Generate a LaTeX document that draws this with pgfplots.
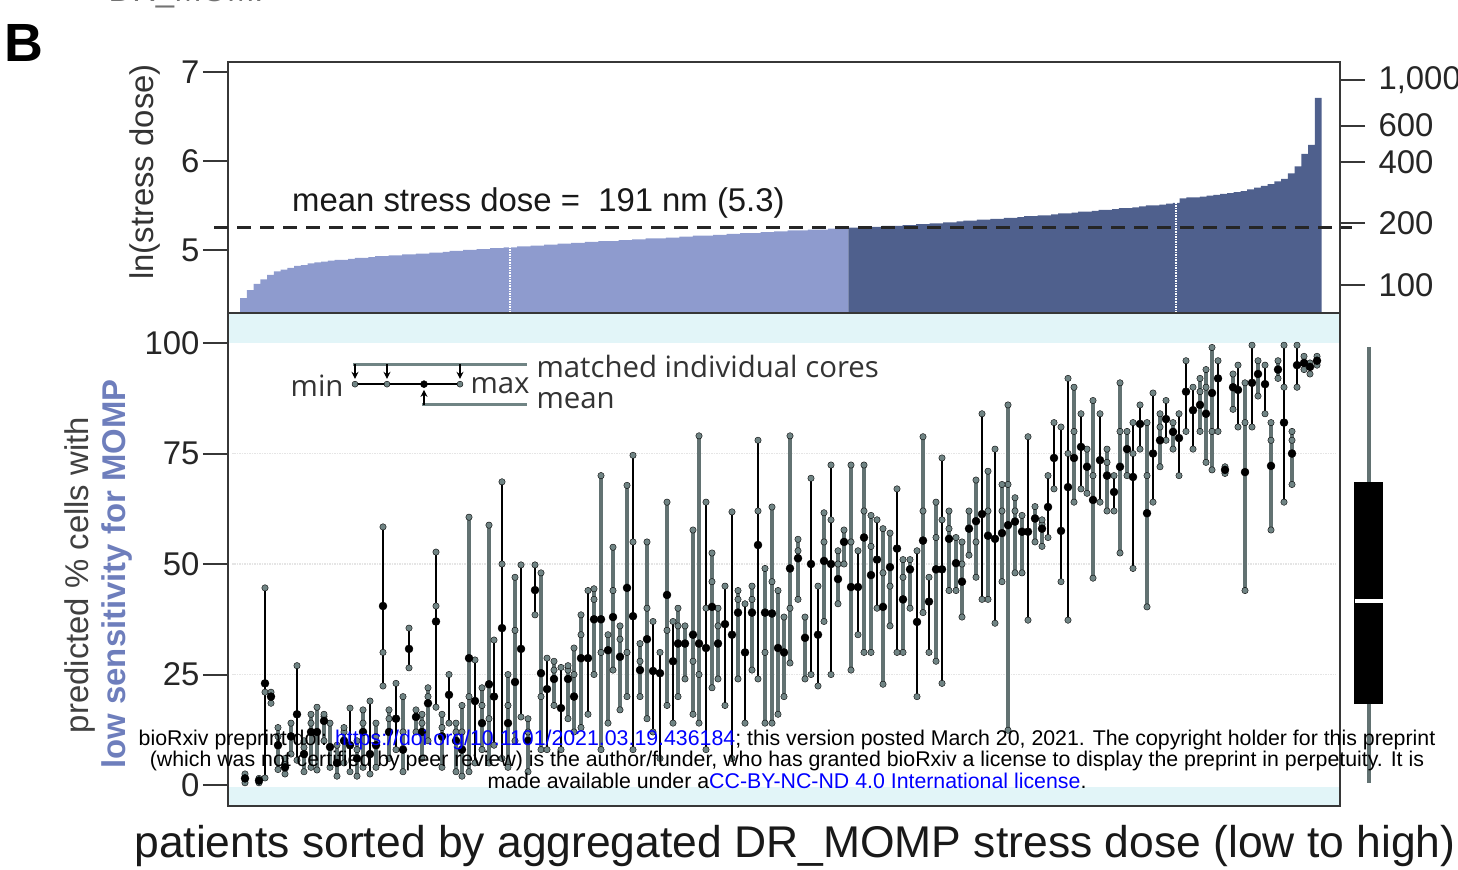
\documentclass[border=0pt]{standalone}
\usepackage{pgfplots}
\pgfplotsset{compat=1.18}
\usepackage{pgfplotstable}
\usepgfplotslibrary{statistics}
\usetikzlibrary{arrows.meta}
\usepackage{fontspec}
\setmainfont{Liberation Sans}
\newfontfamily\legfont{Open Sans}
\definecolor{lightbar}{RGB}{142,155,206}
\definecolor{darkbar}{RGB}{79,96,141}
\definecolor{cyanbg}{RGB}{226,245,248}
\definecolor{coregrey}{RGB}{112,132,132}
\definecolor{linegrey}{RGB}{98,114,114}
\definecolor{labblue}{RGB}{110,126,188}
\definecolor{axgrey}{RGB}{55,55,55}

\pgfplotstableread{
x y
240.0 4.292
240.0 4.46
246.8 4.55
253.5 4.62
260.3 4.67
267.0 4.72
273.8 4.76
280.6 4.78
287.3 4.80
294.1 4.82
300.8 4.83
307.6 4.85
314.4 4.86
321.1 4.87
327.9 4.88
334.6 4.89
341.4 4.89
348.2 4.90
354.9 4.91
361.7 4.91
368.4 4.92
375.2 4.93
382.0 4.93
388.7 4.94
395.5 4.94
402.2 4.95
409.0 4.95
415.8 4.96
422.5 4.96
429.3 4.97
436.0 4.97
442.8 4.98
449.6 4.99
456.3 4.99
463.1 5.00
469.8 5.00
476.6 5.01
483.4 5.01
490.1 5.02
496.9 5.02
503.6 5.03
510.4 5.03
517.2 5.04
523.9 5.04
530.7 5.05
537.4 5.05
544.2 5.06
551.0 5.06
557.7 5.07
564.5 5.07
571.2 5.08
578.0 5.08
584.8 5.09
591.5 5.09
598.3 5.10
605.0 5.10
611.8 5.10
618.6 5.11
625.3 5.11
632.1 5.12
638.8 5.12
645.6 5.13
652.4 5.13
659.1 5.13
665.9 5.14
672.6 5.14
679.4 5.15
686.2 5.15
692.9 5.16
699.7 5.16
706.4 5.16
713.2 5.17
720.0 5.17
726.7 5.18
733.5 5.18
740.2 5.19
747.0 5.19
753.8 5.19
760.5 5.20
767.3 5.20
774.0 5.21
780.8 5.21
787.6 5.22
794.3 5.22
801.1 5.22
807.8 5.23
814.6 5.23
821.4 5.23
828.1 5.24
834.9 5.24
841.6 5.245
848.4 5.245
848.4 4.292
}\lightbars

\pgfplotstableread{
x y
848.4 4.292
848.4 5.25
855.2 5.25
861.9 5.26
868.7 5.26
875.4 5.26
882.2 5.27
889.0 5.27
895.7 5.27
902.5 5.28
909.2 5.28
916.0 5.29
922.8 5.29
929.5 5.30
936.3 5.30
943.0 5.31
949.8 5.31
956.6 5.32
963.3 5.33
970.1 5.33
976.8 5.34
983.6 5.34
990.4 5.35
997.1 5.35
1003.9 5.36
1010.6 5.36
1017.4 5.37
1024.2 5.38
1030.9 5.38
1037.7 5.39
1044.4 5.39
1051.2 5.40
1058.0 5.41
1064.7 5.41
1071.5 5.42
1078.2 5.43
1085.0 5.43
1091.8 5.44
1098.5 5.45
1105.3 5.45
1112.0 5.46
1118.8 5.47
1125.6 5.47
1132.3 5.48
1139.1 5.49
1145.8 5.50
1152.6 5.50
1159.4 5.51
1166.1 5.52
1172.9 5.53
1179.6 5.58
1186.4 5.59
1193.2 5.59
1199.9 5.60
1206.7 5.61
1213.4 5.62
1220.2 5.63
1227.0 5.64
1233.7 5.65
1240.5 5.66
1247.2 5.68
1254.0 5.70
1260.8 5.72
1267.5 5.74
1274.3 5.77
1281.0 5.80
1287.8 5.86
1294.6 5.94
1301.3 6.08
1308.1 6.18
1314.8 6.71
1321.6 6.71
1321.6 4.292
}\darkbars

\pgfplotstableread{
x m lo hi
245 1.5 0.5 2.5
259 1.0 0.5 1.5
271 20 18.5 21
278 9 3.5 13
285 4 2.5 6
291 11 7 14
304 7 3 10
311 12 4 16
317 12 3.4 17.6
324 14.5 10 16
330 8.6 4 14
337 5 2 9
344 10 5 13
357 6 2 10
363 12 4 17
376 9 4 14
389 12 6 17
403 8 3 20
416 15.4 12 17
422 12 6 16
428 18.5 10 22
442 11 4 16
456 10 3 14
462 8 2 18
469 28.7 3 60.6
482 14 8 22
489 22.8 5 58.8
508 14 4 25
515 23.3 10 47
528 10 3 15
541 25.3 8 48
554 24 18 28
568 24 15 27
574 20 12 31
581 28.7 13 38.5
594 37.5 25 44.4
601 37.5 8 70
608 30.5 14 34
613 38 26 53.8
620 29 17 36
627 44.6 20 67.8
640 26 20 32
647 33 15 55
667 43 18 64
678 32 20 40
685 32 24 36
693 34 16 57.7
699 32 14 79
712 40.3 22 52.5
718 32 24 40
738 39 24 44
752 39 26 45
765 39 14 49
772 38.8 14 62.9
778 31 16 44
784 30 20 38
790 49 27.6 79
798 51.3 42 55.6
805 33.3 24 38
824 50.7 37 61.6
838 46.6 41 53
844 55 50 57.7
851 44.8 26 72.4
864 56 30 72.4
871 47.5 30 61
883 40.3 22.8 58
890 49.3 36 57
903 42 30 51
910 48.8 40 51
923 55.3 39 78.8
936 48.8 28 64
949 55.7 44 62
956 50.2 44 56
962 46 38 55
969 58 52 62
976 59.7 47 69
988 56.4 42 71
1002 57 46 68
1008 58.8 12.4 86
1015 59.6 48 65
1022 57.3 48 61
1035 60.3 55 63
1042 58 54 60
1074 74 64 90
1087 72 66 76
1093 64.5 46.8 87
1107 70 62 76
1120 72 52.5 91
1127 76 70 80
1147 61.5 40.3 82
1160 78 72 84
1173 79.9 76 82
1200 86 80 92
1206 84 73 94
1212 88.7 71.3 99
1225 71.3 70.5 72
1233 90 85 93
1245 70.8 44 91
1258 93 88 96
1271 72.2 57.7 82
1278 94 92 96
1292 75 68 80
1304 95.5 94 97
1317 96 95 97
}\greydata

\pgfplotstableread{
x m lo hi
265 23 1.6 44.6
297 16 5.6 27
350 9 3 17.4
370 7 2.5 19
383 40.5 22.4 58.4
396 15 8 23
409 30.8 26.5 35.5
436 37 17.6 52.7
449 20.4 14 25
475 19 5 28.3
494 20 9 32.8
502 35.5 6 68.6
521 30.8 15.4 49.8
535 44.1 38.5 49.8
547 21.7 8 28.7
561 17.4 8 26.6
588 28.7 16 44
633 38.2 8 74.6
653 25.8 12 37
660 25.3 6 30
673 28 14 37
706 31 8 64
725 36.4 18 45
732 34 6 61.8
745 30 14 41
758 54.3 24 78
811 50 25 69.4
818 34 22.4 45
831 50 25 72.4
858 44.8 34 53
877 51 40 60
897 53.5 30 67
917 36.9 20 53
929 41.5 30 47
942 48.8 23 74
982 61.3 42 84
995 55.7 36.6 76
1028 57.3 37.3 78.8
1048 62.9 56 70
1054 74 67 82
1061 57.5 46 81
1068 67.4 37.3 92
1081 76.5 67 84
1100 73.5 64 84
1114 66.3 62 70
1133 69.7 49 82
1140 81.7 76 86
1153 75 64 88.7
1166 82.8 78 87
1179 78.5 70 84
1186 89 80 96
1193 84.8 76 90
1218 92 80 96
1238 89.4 81 95
1252 91 81 99.5
1265 90.7 84 95
1284 82 64 99.5
1297 95 90 99.5
1310 94.6 93 95.5
}\blackdata

\pgfplotstableread{
x y
265 21
278 11
285 5
304 8.5
311 14
324 15.5
344 12
357 8
363 14
376 11
383 30
389 15
403 12
422 14
428 20
436 40.5
442 13
456 12
462 12
469 20
482 18
489 15
502 50
508 18
515 35
528 12
541 20
554 26
568 26
574 25
581 34
594 42
601 30
613 44
620 33
627 30
633 55
640 28
647 40
667 35
678 36
693 28
699 25
706 40
712 46
718 36
738 42
752 42
758 62
765 30
772 46
790 40
798 53
824 55
831 60
838 50
851 55
864 62
871 54
883 48
890 45
903 47
923 62
936 56
942 60
949 58
962 50
976 55
988 62
1002 62
1008 68
1015 62
1042 59
1068 75
1074 80
1093 70
1107 73
1120 80
1133 75
1147 70
1160 81
1200 89
1206 90
1212 80
1245 82
1271 78
1284 90
1292 78
}\midcores

\begin{document}
\begin{tikzpicture}
\useasboundingbox (0bp,0bp) rectangle (1458bp,870bp);

% ---------------- top panel ----------------
\begin{axis}[
  at={(228bp,557bp)}, anchor=south west, scale only axis,
  width=1112bp, height=251bp,
  xmin=228, xmax=1340, ymin=4.292, ymax=7.112,
  clip=false,
  axis line style={line width=2bp, axgrey},
  xtick=\empty, ytick={5,6,7}, ytick pos=left,
  tick align=outside, major tick length=25bp,
  tick style={line width=2bp, axgrey},
  yticklabel style={font=\fontsize{33}{33}\selectfont, text=black!85},
  /pgf/number format/assume math mode=true,
]
\addplot[const plot, fill=lightbar, draw=none] table[x=x,y=y] {\lightbars};
\addplot[const plot, fill=darkbar, draw=none] table[x=x,y=y] {\darkbars};
\draw[white, densely dotted, line width=1.6bp] (axis cs:510,4.292) -- (axis cs:510,5.03);
\draw[white, densely dotted, line width=1.6bp] (axis cs:1176,4.292) -- (axis cs:1176,5.55);
\draw[black!85, line width=2.4bp, dash pattern=on 14bp off 9bp] (axis cs:214,5.253) -- (axis cs:1352,5.253);
\end{axis}

% right axis (nm)
\begin{axis}[
  at={(228bp,557bp)}, anchor=south west, scale only axis,
  width=1112bp, height=251bp,
  xmin=228, xmax=1340, ymin=4.292, ymax=7.112,
  axis x line=none, axis y line*=right,
  axis line style={line width=2bp, axgrey},
  ytick={4.605,5.298,5.991,6.397,6.908},
  yticklabels={100,200,400,600,{1,000}},
  tick align=outside, major tick length=25bp,
  tick style={line width=2bp, axgrey},
  yticklabel style={font=\fontsize{33}{33}\selectfont, text=black!85, xshift=10bp},
]
\addplot[draw=none] coordinates {(300,5)};
\end{axis}

% ---------------- bottom panel ----------------
\begin{axis}[
  at={(228bp,64bp)}, anchor=south west, scale only axis,
  width=1112bp, height=493bp,
  xmin=228, xmax=1340, ymin=-4.75, ymax=106.8,
  clip=false,
  axis background/.style={fill=cyanbg},
  axis line style={line width=2bp, axgrey},
  xtick=\empty, ytick={0,25,50,75,100}, ytick pos=left,
  tick align=outside, major tick length=25bp,
  tick style={line width=2bp, axgrey},
  yticklabel style={font=\fontsize{33}{33}\selectfont, text=black!85},
  /pgf/number format/assume math mode=true,
]
\fill[white] (axis cs:229,-0.5) rectangle (axis cs:1339,100);
\draw[black!10, densely dotted, line width=1.5bp] (axis cs:232,25) -- (axis cs:1336,25);
\draw[black!10, densely dotted, line width=1.5bp] (axis cs:232,50) -- (axis cs:1336,50);
\draw[black!10, densely dotted, line width=1.5bp] (axis cs:232,75) -- (axis cs:1336,75);
% legend inset
\draw[coregrey, line width=3bp] (axis cs:353,95.2) -- (axis cs:527,95.2);
\draw[black, line width=1.5bp, -{Stealth[length=7bp,width=7bp]}] (axis cs:355,95.2) -- (axis cs:355,91.9);
\draw[black, line width=1.5bp, -{Stealth[length=7bp,width=7bp]}] (axis cs:387,95.2) -- (axis cs:387,91.9);
\draw[black, line width=1.5bp, -{Stealth[length=7bp,width=7bp]}] (axis cs:460,95.2) -- (axis cs:460,91.9);
\draw[coregrey, line width=3bp] (axis cs:422,86.0) -- (axis cs:527,86.0);
\draw[black, line width=1.5bp, -{Stealth[length=7bp,width=7bp]}] (axis cs:424,86.0) -- (axis cs:424,89.4);
\draw[black, line width=1.6bp] (axis cs:355,90.7) -- (axis cs:460,90.7);
\addplot[only marks, mark=*, mark size=3bp, mark options={fill=coregrey, draw=none}] coordinates {(355,90.7) (387,90.7) (460,90.7)};
\addplot[only marks, mark=*, mark size=3.5bp, mark options={fill=black, draw=none}] coordinates {(424,90.7)};
\node[anchor=east, font=\legfont\fontsize{29.5}{29.5}\selectfont, text=black!80] at (axis cs:347,90.3) {min};
\node[anchor=west, font=\legfont\fontsize{29.5}{29.5}\selectfont, text=black!80] at (axis cs:467,90.3) {max};
\node[anchor=west, font=\legfont\fontsize{29.5}{29.5}\selectfont, text=black!80] at (axis cs:533,94.6) {matched individual cores};
\node[anchor=west, font=\legfont\fontsize{29.5}{29.5}\selectfont, text=black!80] at (axis cs:533,86.9) {mean};

% range lines
\addplot[only marks, mark=none, error bars/.cd, y dir=both, y explicit, error mark=none,
  error bar style={linegrey, line width=3.4bp}]
  table[x=x, y=m, y error plus expr=\thisrow{hi}-\thisrow{m}, y error minus expr=\thisrow{m}-\thisrow{lo}] {\greydata};
\addplot[only marks, mark=none, error bars/.cd, y dir=both, y explicit, error mark=none,
  error bar style={black, line width=2bp}]
  table[x=x, y=m, y error plus expr=\thisrow{hi}-\thisrow{m}, y error minus expr=\thisrow{m}-\thisrow{lo}] {\blackdata};
% cores
\addplot[only marks, mark=*, mark size=3.2bp, mark options={fill=coregrey, draw=none}] table[x=x,y=y] {\midcores};
\addplot[only marks, mark=*, mark size=3.2bp, mark options={fill=coregrey, draw=none}] table[x=x,y=lo] {\greydata};
\addplot[only marks, mark=*, mark size=3.2bp, mark options={fill=coregrey, draw=none}] table[x=x,y=hi] {\greydata};
\addplot[only marks, mark=*, mark size=3.2bp, mark options={fill=coregrey, draw=none}] table[x=x,y=lo] {\blackdata};
\addplot[only marks, mark=*, mark size=3.2bp, mark options={fill=coregrey, draw=none}] table[x=x,y=hi] {\blackdata};
% means
\addplot[only marks, mark=*, mark size=4bp, mark options={fill=black, draw=none}] table[x=x,y=m] {\greydata};
\addplot[only marks, mark=*, mark size=4bp, mark options={fill=black, draw=none}] table[x=x,y=m] {\blackdata};
\end{axis}

% boxplot at right (own axis)
\begin{axis}[
  at={(1341bp,64bp)}, anchor=south west, scale only axis,
  width=56bp, height=493bp,
  xmin=0, xmax=56, ymin=-4.75, ymax=106.8,
  hide axis, clip=false,
]
\addplot[draw=black, fill=black, solid,
  boxplot/draw direction=y,
  boxplot prepared={draw position=27.5, lower whisker=0.5, lower quartile=18.6,
    median=41.6, upper quartile=68.5, upper whisker=99.1, box extend=28, whisker extend=0,
    every whisker/.style={draw=linegrey, line width=4bp},
    every box/.style={draw=black, fill=black},
    every median/.style={draw=white, line width=4bp}}]
  coordinates {};
\end{axis}

% ---------------- texts ----------------
\node[anchor=base west, font=\bfseries\fontsize{54}{54}\selectfont] at (1bp,808bp) {B};
\node[anchor=base west, font=\fontsize{33}{33}\selectfont, text=black!55] at (105bp,868bp) {DR\_MOMP};
\node[anchor=base west, font=\fontsize{33}{33}\selectfont, text=black!90, inner sep=0pt] at (292bp,658bp) {mean stress dose =~~191 nm (5.3)};
\node[rotate=90, font=\fontsize{33}{33}\selectfont, text=black!80] at (145bp,698bp) {ln(stress dose)};
\node[rotate=90, font=\fontsize{33}{33}\selectfont, text=black!75] at (80bp,295bp) {predicted \% cells with};
\node[rotate=90, font=\bfseries\fontsize{33}{33}\selectfont, text=labblue] at (117bp,296bp) {low sensitivity for MOMP};
\node[font=\fontsize{44.6}{44.6}\selectfont, text=black!90] at (795bp,24bp) {patients sorted by aggregated DR\_MOMP stress dose (low to high)};
\node[align=center, font=\fontsize{21.4}{21.5}\selectfont] at (787bp,111bp)
 {bioRxiv preprint doi: \textcolor{blue}{https://doi.org/10.1101/2021.03.19.436184}; this version posted March 20, 2021. The copyright holder for this preprint\\
  (which was not certified by peer review) is the author/funder, who has granted bioRxiv a license to display the preprint in perpetuity. It is\\
  made available under a\textcolor{blue}{CC-BY-NC-ND 4.0 International license}.};
\end{tikzpicture}
\end{document}
